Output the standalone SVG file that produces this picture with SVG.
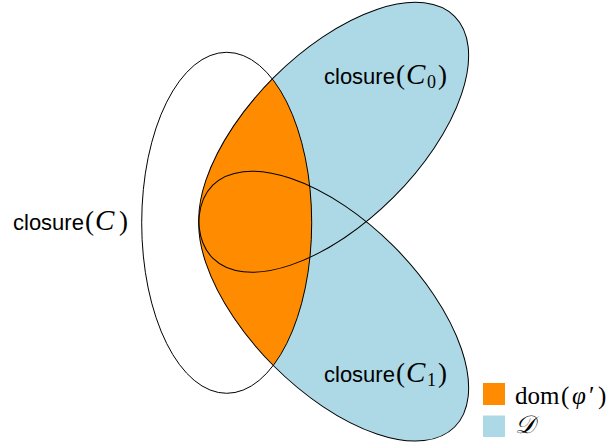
<svg xmlns="http://www.w3.org/2000/svg" xmlns:xlink="http://www.w3.org/1999/xlink" width="610" height="445" viewBox="0 0 610 445">
<style>
.blue{fill:#add8e6;stroke:none}
.orange{fill:#ff8c00;stroke:none}
.outline{fill:none;stroke:#000;stroke-width:1}
.sf{font-family:"Liberation Sans",Arial,sans-serif;font-size:22px;fill:#000}
.m{font-family:"Liberation Serif","Times New Roman",serif;font-size:27px;fill:#000}
.lg{font-family:"Liberation Serif","Times New Roman",serif;font-size:25px;fill:#000}
.mi{font-style:italic}
.big{font-size:29px}
.sub{font-size:18px}
</style>
<defs>
<ellipse id="e0" cx="333.7" cy="137.3" rx="171" ry="84.7" transform="rotate(-45 333.7 137.3)"/>
<ellipse id="e1" cx="333.7" cy="306.1" rx="171" ry="84.7" transform="rotate(45 333.7 306.1)"/>
<ellipse id="ec" cx="226.7" cy="222.8" rx="85" ry="170.5"/>
<clipPath id="clipC"><ellipse cx="226.7" cy="222.8" rx="85" ry="170.5"/></clipPath>
</defs>
<g id="region-D">
<use xlink:href="#e0" class="blue"/>
<use xlink:href="#e1" class="blue"/>
</g>
<g id="region-dom" clip-path="url(#clipC)">
<use xlink:href="#e0" class="orange"/>
<use xlink:href="#e1" class="orange"/>
</g>
<g id="connectors"></g>
<g id="closureC">
<use xlink:href="#ec" class="outline"/>
<text class="sf" x="13" y="230">closure</text>
<text class="m" x="85" y="230">(</text>
<text class="m mi big" x="95" y="230">C</text>
<text class="m" x="119" y="230">)</text>
</g>
<g id="closureC0">
<use xlink:href="#e0" class="outline"/>
<text class="sf" x="324" y="83.5">closure</text>
<text class="m" x="396" y="83.5">(</text>
<text class="m mi big" x="406" y="83.5">C</text>
<text class="m sub" x="427" y="87.5">0</text>
<text class="m" x="438" y="83.5">)</text>
</g>
<g id="closureC1">
<use xlink:href="#e1" class="outline"/>
<text class="sf" x="324" y="382">closure</text>
<text class="m" x="396" y="382">(</text>
<text class="m mi big" x="406" y="382">C</text>
<text class="m sub" x="427" y="386">1</text>
<text class="m" x="438" y="382">)</text>
</g>
<g id="legend">
<rect x="483" y="383" width="22" height="22" class="orange"/>
<rect x="483" y="415.5" width="22" height="21.5" class="blue"/>
<text class="lg" x="515" y="404">dom<tspan x="561">(</tspan><tspan class="mi" x="572">φ</tspan><tspan x="589">′</tspan><tspan x="598">)</tspan></text>
<text class="lg mi" x="515" y="433">𝒟</text>
</g>
</svg>
